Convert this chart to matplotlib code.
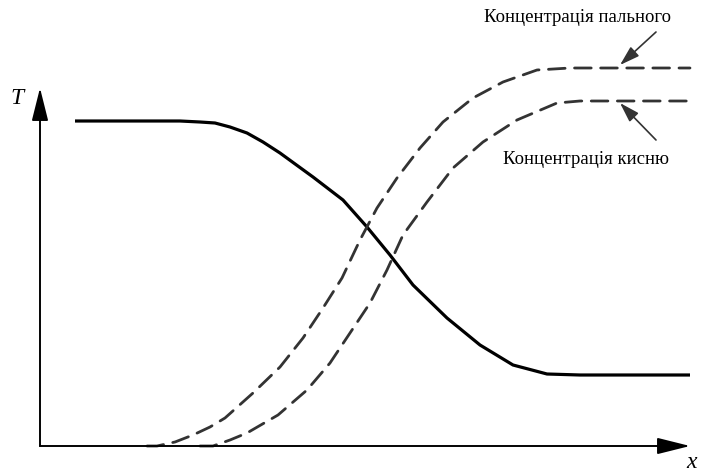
import matplotlib
matplotlib.use("Agg")
import matplotlib.pyplot as plt

# Temperature curve (solid)
temp_x = [35, 140, 160, 175, 190, 207, 223, 240, 273, 303, 327, 350, 373, 407, 440, 473, 507, 540, 650]
temp_y = [325, 325, 324, 323, 319, 313, 304, 293, 269, 246, 219, 191, 161, 128, 101, 81, 72, 71, 71]

# Fuel concentration (upper dashed)
fuel_x = [107, 117, 135, 153, 170, 185, 213, 240, 263, 283, 302, 320, 337, 357, 380, 403, 433, 463, 497, 530, 650]
fuel_y = [0, 0, 4, 11, 19, 28, 53, 79, 108, 138, 168, 206, 238, 268, 298, 324, 348, 364, 376, 378, 378]

# Oxygen concentration (lower dashed)
oxy_x = [160, 173, 190, 207, 238, 267, 290, 310, 330, 347, 363, 387, 413, 443, 477, 517, 540, 650]
oxy_y = [0, 0, 6, 13, 31, 56, 83, 113, 143, 176, 211, 244, 278, 304, 326, 343, 345, 345]

label_fuel = "Концентрація пального"
label_oxy = "Концентрація кисню"
label_T = "T"
label_x = "x"

fig = plt.figure(figsize=(7.01, 4.72), dpi=100)
ax = fig.add_axes([0, 0, 1, 1])
ax.set_xlim(-40, 661)
ax.set_ylim(-26, 446)
ax.axis("off")

axis_color = "#555555"
head = "-|>,head_length=1.2,head_width=0.3"
ax.annotate("", xy=(0, 358), xytext=(0, 0),
            arrowprops=dict(arrowstyle=head, color="black", lw=1.3,
                            shrinkA=0, shrinkB=0, mutation_scale=17))
ax.annotate("", xy=(650, 0), xytext=(0, 0),
            arrowprops=dict(arrowstyle=head, color="black", lw=1.3,
                            shrinkA=0, shrinkB=0, mutation_scale=17))
ax.plot([0, 0], [0, 335], color=axis_color, lw=1.3)
ax.plot([0, 628], [0, 0], color=axis_color, lw=1.3)

ax.plot(temp_x, temp_y, color="black", lw=2.3, solid_capstyle="butt", solid_joinstyle="round")
l1, = ax.plot(fuel_x, fuel_y, color="#333333", lw=2.0, dash_capstyle="round", dash_joinstyle="round")
l1.set_dashes((6.0, 3.4))
l2, = ax.plot(oxy_x, oxy_y, color="#333333", lw=2.0, dash_capstyle="round", dash_joinstyle="round")
l2.set_dashes((6.0, 3.4))

serif = ["Liberation Serif", "DejaVu Serif"]
ax.text(537, 429, label_fuel, ha="center", va="center", fontsize=13.5, family=serif)
ax.text(546, 286, label_oxy, ha="center", va="center", fontsize=13.5, family=serif)
ax.text(-23, 348, label_T, ha="center", va="center", fontsize=17, style="italic", family=serif)
ax.text(652, -17, label_x, ha="center", va="center", fontsize=17, style="italic", family=serif)

small = "-|>,head_length=0.8,head_width=0.25"
ax.annotate("", xy=(580, 381), xytext=(616, 414),
            arrowprops=dict(arrowstyle=small, color="#333333", lw=1.2,
                            shrinkA=0, shrinkB=0, mutation_scale=15))
ax.annotate("", xy=(580, 343), xytext=(616, 306),
            arrowprops=dict(arrowstyle=small, color="#333333", lw=1.2,
                            shrinkA=0, shrinkB=0, mutation_scale=15))

fig.savefig("out.png", dpi=100)
